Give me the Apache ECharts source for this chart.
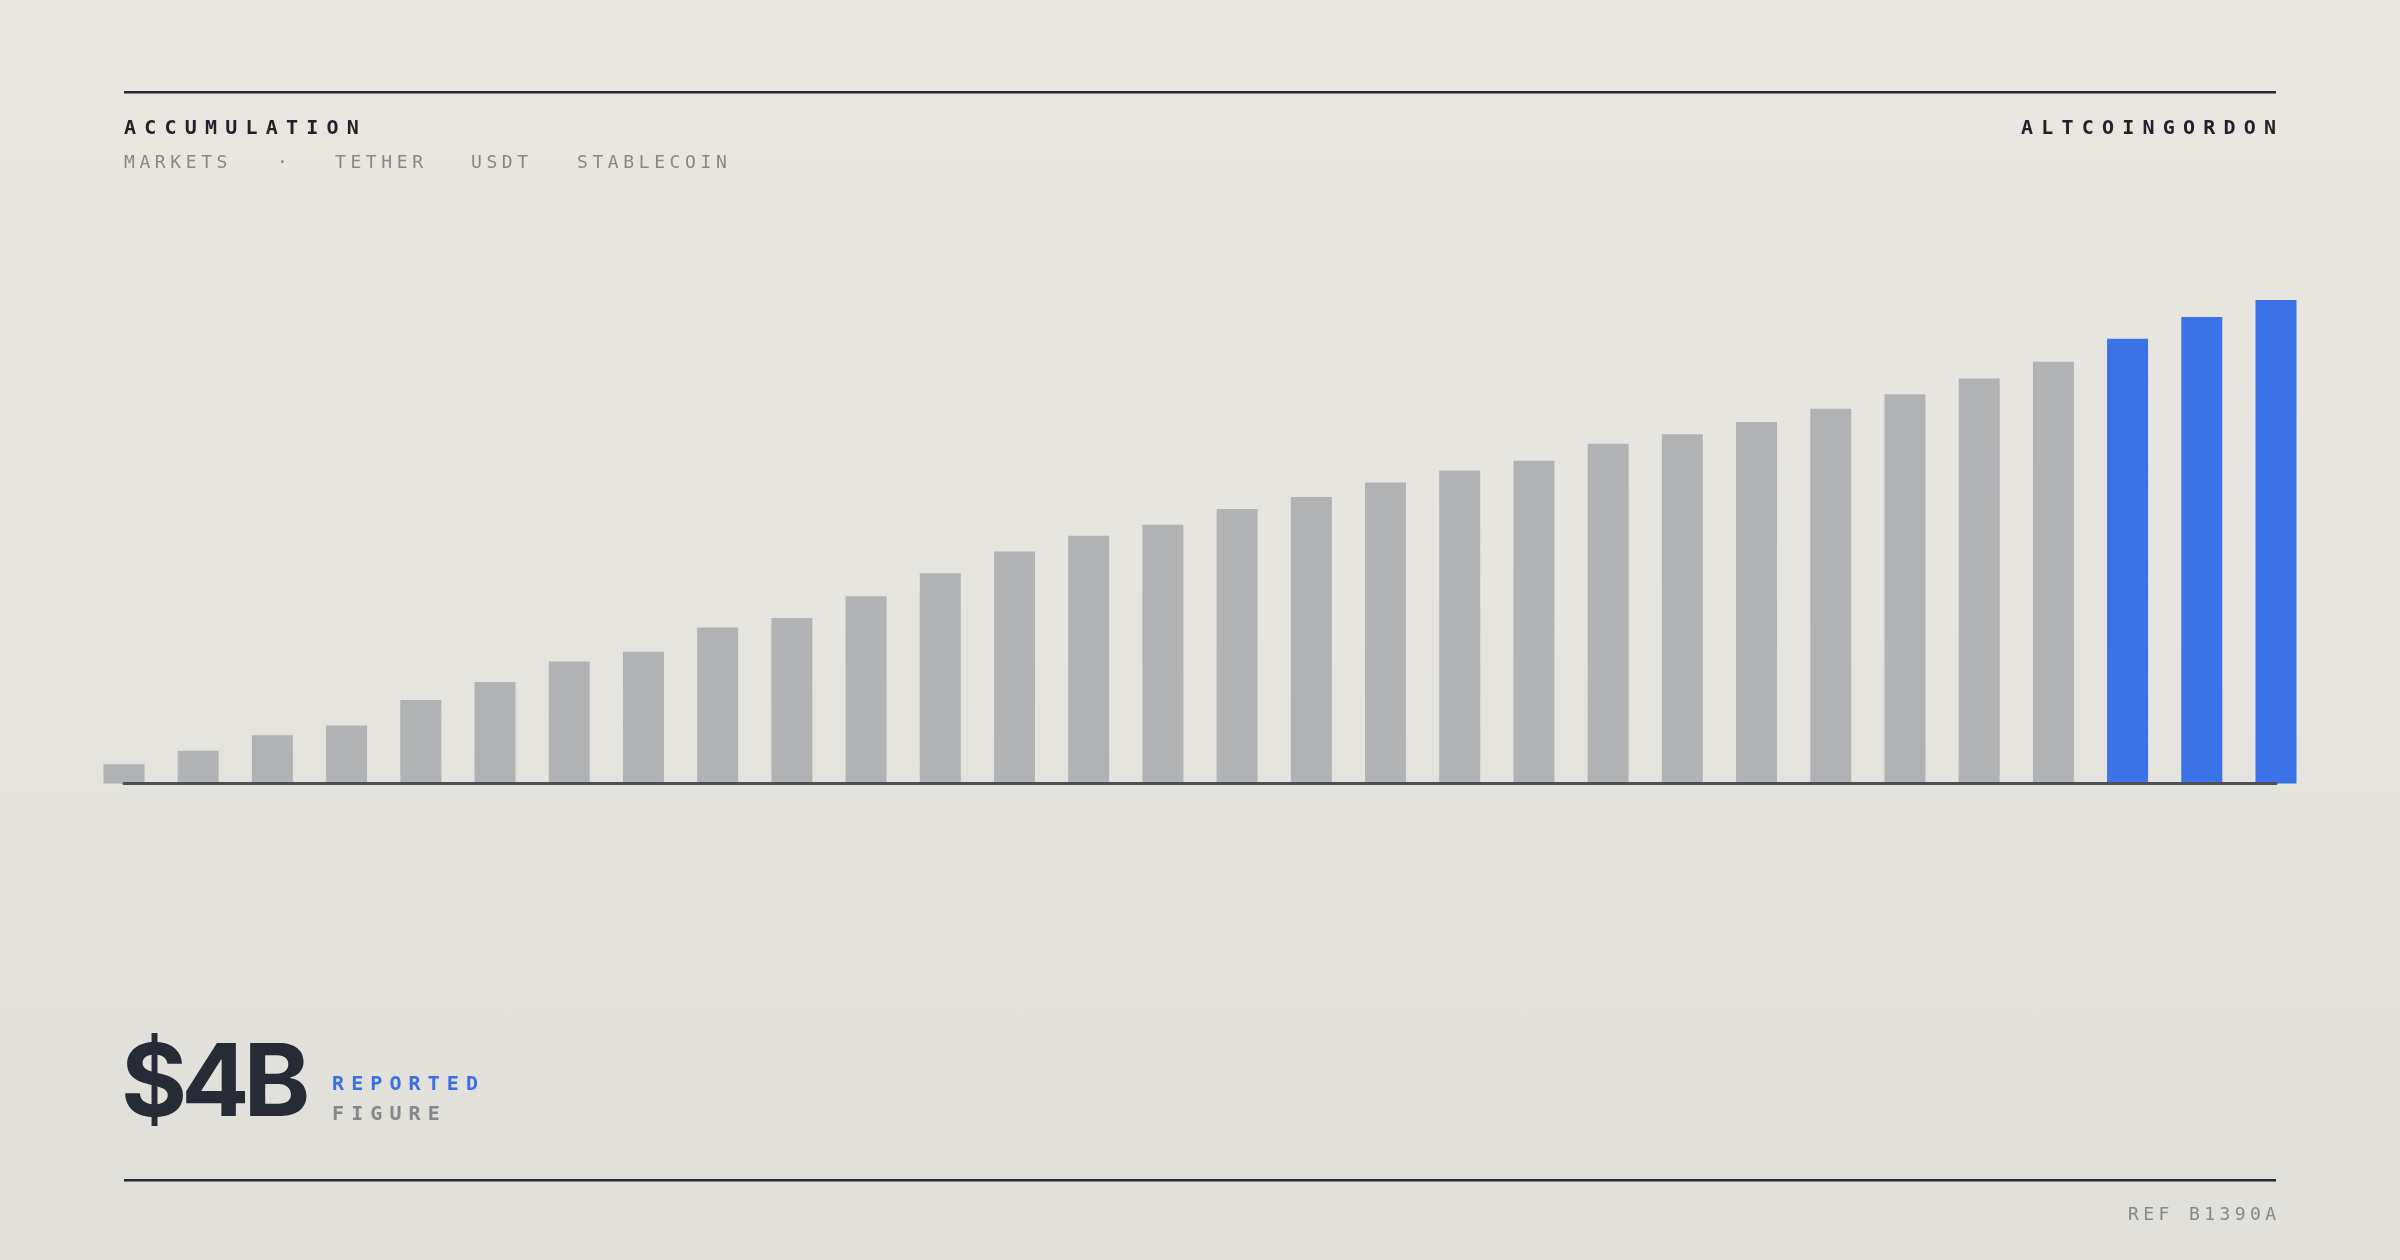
<!DOCTYPE html>
<html>
<head>
<meta charset="utf-8">
<script src="https://cdn.jsdelivr.net/npm/echarts@6/dist/echarts.min.js"></script>
<style>
  html, body { margin: 0; padding: 0; }
  body {
    width: 2400px; height: 1260px; overflow: hidden; position: relative;
    background: linear-gradient(180deg, #EAE7E1 0%, #E6E4DE 50%, #E0DFDA 100%);
  }
  #chart { position: absolute; left: 0; top: 0; width: 2400px; height: 1260px; }
  .t { position: absolute; white-space: pre; line-height: 1; font-family: "DejaVu Sans Mono", "Liberation Mono", monospace; }
  .head { font-size: 20px; font-weight: 700; letter-spacing: 8.2px; color: #1F222A; top: 117px; }
  .sub { font-size: 18px; font-weight: 400; letter-spacing: 4.6px; color: #86878C; top: 153px; }
  .big { font-family: Inter, "Noto Sans", sans-serif; font-weight: 700; font-size: 101px; letter-spacing: -6px; color: #272B35; left: 121px; top: 1029px; }
  .tag { font-size: 20px; font-weight: 700; letter-spacing: 7.1px; left: 332px; }
  .ref { font-size: 18px; font-weight: 400; letter-spacing: 4.4px; color: #86878C; top: 1205px; }
</style>
</head>
<body>
<div id="chart"></div>

<div class="t head" style="left:124px;">ACCUMULATION</div>
<div class="t head" style="right:115.8px;">ALTCOINGORDON</div>
<div class="t sub" style="left:124px;">MARKETS</div>
<div class="t sub" style="left:277px;">·</div>
<div class="t sub" style="left:335px;">TETHER</div>
<div class="t sub" style="left:471px;">USDT</div>
<div class="t sub" style="left:577px;">STABLECOIN</div>
<div class="t big">$4B</div>
<div class="t tag" style="top:1073px; color:#3B6FE3;">REPORTED</div>
<div class="t tag" style="top:1103px; color:#86878C;">FIGURE</div>
<div class="t ref" style="right:119.6px;">REF B1390A</div>

<script>
// ---- data (USDT supply, $B) ----
const categories = [
  "P01","P02","P03","P04","P05","P06","P07","P08","P09","P10",
  "P11","P12","P13","P14","P15","P16","P17","P18","P19","P20",
  "P21","P22","P23","P24","P25","P26","P27","P28","P29","P30"
];
const values = [
  0.16, 0.27, 0.40, 0.48, 0.69, 0.84, 1.01, 1.09, 1.29, 1.37,
  1.55, 1.74, 1.92, 2.05, 2.14, 2.27, 2.37, 2.49, 2.59, 2.67,
  2.81, 2.89, 2.99, 3.10, 3.22, 3.35, 3.49, 3.68, 3.86, 4.00
];
const highlightedCategories = ["P28", "P29", "P30"];
const yMax = 4.0;

const GRAY = "#B1B2B4";
const BLUE = "#3B73E6";

const chart = echarts.init(document.getElementById("chart"), null, { renderer: "canvas" });

const barData = values.map((v, i) => ({
  value: v,
  itemStyle: { color: highlightedCategories.includes(categories[i]) ? BLUE : GRAY }
}));

chart.setOption({
  backgroundColor: "transparent",
  animation: false,
  grid: { left: 124, right: 124, top: 300, bottom: 476.5 },
  xAxis: {
    type: "category",
    data: categories,
    boundaryGap: false,
    z: 5,
    axisLine: { show: true, lineStyle: { color: "#4A4F58", width: 3 } },
    axisTick: { show: false },
    axisLabel: { show: false },
    splitLine: { show: false }
  },
  yAxis: {
    type: "value",
    min: 0,
    max: yMax,
    show: false,
    splitLine: { show: false }
  },
  series: [{
    type: "bar",
    data: barData,
    barWidth: 41,
    itemStyle: { borderRadius: 0 }
  }],
  graphic: [
    { type: "rect", left: 124, top: 91, shape: { width: 2152, height: 2.5 }, style: { fill: "#262A33" }, silent: true },
    { type: "rect", left: 124, top: 1179, shape: { width: 2152, height: 2.5 }, style: { fill: "#262A33" }, silent: true }
  ]
});
</script>
</body>
</html>
